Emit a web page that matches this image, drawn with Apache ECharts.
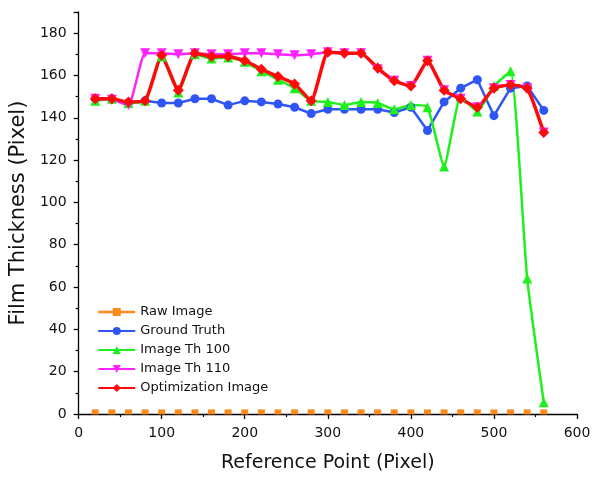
<!DOCTYPE html>
<html>
<head>
<meta charset="utf-8">
<script src="https://cdn.jsdelivr.net/npm/echarts@6/dist/echarts.min.js"></script>
<style>
html,body{margin:0;padding:0;background:#fff;}
#chart{width:595px;height:479px;}
</style>
</head>
<body>
<div id="chart"></div>
<script>
// reference points along the film (pixel)
var xs = [20,40,60,80,100,120,140,160,180,200,220,240,260,280,300,320,340,360,380,400,420,440,460,480,500,520,540,560];
var rawImage = [1,1,1,1,1,1,1,1,1,1,1,1,1,1,1,1,1,1,1,1,1,1,1,1,1,1,1,1];
var groundTruth = [149,149,147,148,147,147,149,149,146,148,147.5,146.5,145,142,144,144,144,144,142.5,145,134,147.5,154,158,141,154,155,143.5];
var th100 = [148,149,147,148,169,152,170,168,168.5,166.5,162,158,154,148,147.5,146,147.5,147,144,146,145,117,150,143,155,162,64,5.5];
var th110 = [149,148.5,146,170.5,170.5,170,170.5,170,170,170.5,170.5,170,169.5,170,171,170.5,170.5,163,157.5,155,167,153,149,145,154,155.5,154,133];
var optim = [149,149,147.5,148,169.5,153,170.5,169,169,167,163,159.5,156,148,171,170.5,170.5,163.5,157.5,155,167,153,149,145,154,155.5,154,133];
var legendNames = ['Raw Image','Ground Truth','Image Th 100','Image Th 110','Optimization Image'];

function pairs(vals){
	var out = [];
	for (var i = 0; i < xs.length; i++) {
		out.push([xs[i], vals[i]]);
	}
	return out;
}

var myChart = echarts.init(document.getElementById('chart'));
var font = 'DejaVu Sans';
option = {
	backgroundColor: '#fff',
	animation: false,
	grid: {
		left: 78,
		right: 18,
		top: 12,
		bottom: 65
	},
	legend: {
		orient: 'vertical',
		left: 92,
		top: 300,
		itemWidth: 37,
		itemHeight: 10,
		itemGap: 5,
		textStyle: {
			fontFamily: font,
			fontSize: 13,
			color: '#111',
			lineHeight: 14
		},
		data: [
			{ name: legendNames[0], lineStyle: { opacity: 1, width: 2.5 } },
			{ name: legendNames[1] },
			{ name: legendNames[2] },
			{ name: legendNames[3] },
			{ name: legendNames[4] }
		]
	},
	xAxis: {
		type: 'value',
		min: 0,
		max: 600,
		interval: 100,
		name: 'Reference Point (Pixel)',
		nameLocation: 'middle',
		nameGap: 40,
		nameTextStyle: {
			fontFamily: font,
			fontSize: 19,
			color: '#111'
		},
		axisLine: { lineStyle: { color: '#000', width: 1.3 } },
		axisTick: { length: 5, lineStyle: { color: '#000', width: 1.3 } },
		minorTick: { show: true, splitNumber: 2, length: 3, lineStyle: { color: '#000', width: 1.2 } },
		splitLine: { show: false },
		axisLabel: {
			margin: 12,
			fontFamily: font,
			fontSize: 14,
			color: '#111'
		}
	},
	yAxis: {
		type: 'value',
		min: 0,
		max: 190,
		interval: 20,
		name: 'Film Thickness (Pixel)',
		nameLocation: 'middle',
		nameGap: 42,
		nameTextStyle: {
			fontFamily: font,
			fontSize: 21,
			color: '#111'
		},
		axisLine: { lineStyle: { color: '#000', width: 1.3 } },
		axisTick: { length: 5, lineStyle: { color: '#000', width: 1.3 } },
		minorTick: { show: true, splitNumber: 2, length: 3, lineStyle: { color: '#000', width: 1.2 } },
		splitLine: { show: false },
		axisLabel: {
			margin: 12,
			fontFamily: font,
			fontSize: 14,
			color: '#111',
			formatter: function (v) {
				return v > 180 ? '' : v;
			}
		}
	},
	series: [{
		name: legendNames[0],
		type: 'line',
		symbol: 'rect',
		symbolSize: [7, 5],
		itemStyle: { color: '#ff8a1c' },
		lineStyle: { color: '#ff8a1c', width: 2.5, opacity: 0 },
		data: pairs(rawImage)
	}, {
		name: legendNames[1],
		type: 'line',
		symbol: 'circle',
		symbolSize: 9,
		itemStyle: { color: '#2f55f5' },
		lineStyle: { color: '#2f55f5', width: 2.5 },
		data: pairs(groundTruth)
	}, {
		name: legendNames[2],
		type: 'line',
		smooth: 0.15,
		symbol: 'triangle',
		symbolSize: 10,
		itemStyle: { color: '#1ef01e' },
		lineStyle: { color: '#1ef01e', width: 2.5 },
		data: pairs(th100)
	}, {
		name: legendNames[3],
		type: 'line',
		smooth: 0.15,
		symbol: 'triangle',
		symbolRotate: 180,
		symbolSize: 10,
		itemStyle: { color: '#ff22ff' },
		lineStyle: { color: '#ff22ff', width: 2.5 },
		data: pairs(th110)
	}, {
		name: legendNames[4],
		type: 'line',
		smooth: 0.15,
		symbol: 'diamond',
		symbolSize: 11,
		itemStyle: { color: '#ff0a0a' },
		lineStyle: { color: '#ff0a0a', width: 3.5 },
		data: pairs(optim)
	}]
};
myChart.setOption(option);
</script>
</body>
</html>
